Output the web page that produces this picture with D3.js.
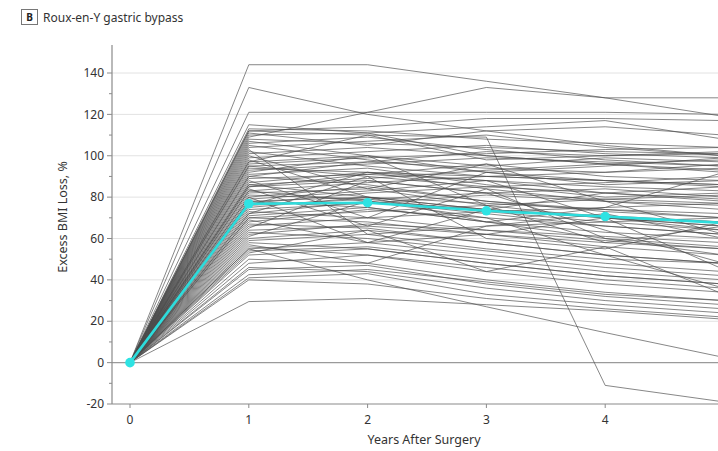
<!DOCTYPE html>
<html>
<head>
<meta charset="utf-8">
<script src="https://cdn.jsdelivr.net/npm/d3@7"></script>
<style>
  html, body { margin: 0; padding: 0; background: #fff; }
  svg { display: block; }
  text { font-family: "Noto Sans", "Open Sans", sans-serif; fill: #333; }
</style>
</head>
<body>
<svg id="chart" width="718" height="451"></svg>
<script>
// Years after surgery at which excess BMI loss was measured
const years = [0, 1, 2, 3, 4, 5];

// Individual patient trajectories (% excess BMI loss at years 1-5; year 0 is 0)
const patients = [
  [144, 144, 136, 128, 119],
  [133, 120, 112, 105, 100],
  [121, 121, 121, 121, 120],
  [109, 121, 133, 128, 128],
  [115, 111, 114, 117, 108],
  [112, 114, 118, 118, 117],
  [97, 110, 109, -11, -19],
  [113, 112, 108, 106, 104],
  [112, 110, 98, 100, 102],
  [111, 105, 112, 114, 110],
  [110, 111, 100, 96, 92],
  [108, 106, 104, 102, 101],
  [107, 100, 95, 99, 97],
  [106, 109, 103, 98, 95],
  [105, 98, 92, 88, 86],
  [104, 107, 110, 104, 100],
  [103, 62, 55, 50, 48],
  [102, 95, 90, 92, 94],
  [101, 104, 100, 96, 98],
  [100, 84, 96, 78, 62],
  [99, 102, 105, 101, 99],
  [98, 80, 68, 75, 92],
  [97, 100, 92, 86, 88],
  [96, 99, 101, 103, 104],
  [95, 90, 85, 82, 79],
  [95, 97, 94, 92, 96],
  [94, 92, 90, 88, 86],
  [93, 96, 99, 97, 95],
  [92, 100, 76, 58, 66],
  [91, 94, 86, 80, 82],
  [90, 97, 102, 100, 101],
  [90, 86, 78, 74, 70],
  [89, 91, 88, 85, 83],
  [88, 70, 92, 95, 99],
  [87, 92, 84, 78, 74],
  [86, 89, 93, 96, 93],
  [86, 80, 74, 70, 66],
  [85, 88, 82, 79, 77],
  [85, 91, 96, 90, 88],
  [84, 66, 84, 60, 52],
  [83, 78, 72, 66, 62],
  [83, 87, 90, 88, 85],
  [82, 84, 76, 70, 68],
  [81, 79, 82, 84, 80],
  [80, 85, 78, 73, 70],
  [80, 58, 62, 70, 64],
  [79, 83, 88, 82, 78],
  [78, 80, 74, 71, 68],
  [78, 75, 68, 60, 56],
  [77, 82, 85, 87, 90],
  [76, 79, 73, 68, 64],
  [76, 92, 88, 70, 45],
  [75, 80, 77, 74, 72],
  [74, 77, 81, 78, 76],
  [73, 70, 64, 59, 55],
  [72, 78, 74, 70, 66],
  [72, 90, 60, 55, 68],
  [71, 75, 68, 63, 60],
  [70, 73, 76, 79, 81],
  [70, 68, 62, 56, 52],
  [69, 58, 74, 82, 85],
  [68, 74, 70, 66, 62],
  [67, 65, 58, 52, 48],
  [66, 70, 73, 75, 77],
  [65, 88, 82, 64, 48],
  [64, 66, 62, 58, 55],
  [63, 60, 54, 48, 44],
  [62, 67, 64, 61, 58],
  [61, 78, 70, 52, 36],
  [60, 64, 58, 52, 48],
  [59, 62, 66, 68, 70],
  [58, 55, 48, 42, 38],
  [57, 48, 66, 72, 60],
  [56, 52, 44, 38, 34],
  [55, 58, 52, 46, 42],
  [55, 40, 27, 14.5, 2.5],
  [54, 56, 50, 44, 40],
  [53, 64, 44, 56, 33],
  [52, 55, 48, 42, 38],
  [50, 48, 40, 34, 30],
  [48, 52, 46, 40, 36],
  [46, 44, 36, 30, 26],
  [45, 47, 38, 32, 28],
  [42.5, 45, 39, 33, 30],
  [41, 43, 33, 28, 24],
  [40, 38, 31, 26, 22],
  [29.5, 31, 28, 25, 21]
];

// Mean excess BMI loss at each year
const meanLoss = [0, 76.8, 77.3, 73.4, 70.6, 67.5];

// Axis ticks
const yTicks = [-20, 0, 20, 40, 60, 80, 100, 120, 140];
const yMinorTicks = d3.range(-20, 141, 10);
const xTicks = [0, 1, 2, 3, 4];

const svg = d3.select("#chart");

const x = d3.scaleLinear().domain([0, 5]).range([130, 724]);
const y = d3.scaleLinear().domain([-20, 140]).range([404, 73]);
const axisLeftX = 112;
const plotRight = 718;

// Panel label and title
svg.append("rect")
  .attr("x", 21.5).attr("y", 9.5).attr("width", 16).attr("height", 15)
  .attr("fill", "#fff").attr("stroke", "#777").attr("stroke-width", 1);
svg.append("text")
  .attr("x", 29.5).attr("y", 21)
  .attr("text-anchor", "middle")
  .style("font-size", "10px").style("font-weight", "bold").style("fill", "#222")
  .text("B");
svg.append("text")
  .attr("x", 43).attr("y", 21.5)
  .style("font-size", "12px")
  .text("Roux-en-Y gastric bypass");

// Horizontal gridlines
svg.append("g")
  .selectAll("line")
  .data(yTicks.filter(d => d !== 0 && d !== -20))
  .join("line")
  .attr("x1", axisLeftX).attr("x2", plotRight)
  .attr("y1", d => y(d)).attr("y2", d => y(d))
  .attr("stroke", "#e2e2e2").attr("stroke-width", 1);

// Zero reference line
svg.append("line")
  .attr("x1", axisLeftX).attr("x2", plotRight)
  .attr("y1", y(0)).attr("y2", y(0))
  .attr("stroke", "#9a9a9a").attr("stroke-width", 1.2);

// Individual trajectories
const line = d3.line()
  .x((d, i) => x(years[i]))
  .y(d => y(d));

svg.append("g")
  .selectAll("path")
  .data(patients.map(p => [0, ...p]))
  .join("path")
  .attr("d", line)
  .attr("fill", "none")
  .attr("stroke", "#4d4d4d")
  .attr("stroke-width", 0.8)
  .attr("stroke-opacity", 0.85);

// Mean trajectory
svg.append("path")
  .datum(meanLoss)
  .attr("d", line)
  .attr("fill", "none")
  .attr("stroke", "#2ddcdc")
  .attr("stroke-width", 2.6);

svg.append("g")
  .selectAll("circle")
  .data(meanLoss.slice(0, 5))
  .join("circle")
  .attr("cx", (d, i) => x(years[i]))
  .attr("cy", d => y(d))
  .attr("r", 4.8)
  .attr("fill", "#2ee3e3");

// Y axis
const yAxis = svg.append("g").attr("transform", `translate(${axisLeftX},0)`);
yAxis.append("line")
  .attr("x1", 0).attr("x2", 0).attr("y1", 45).attr("y2", y(-20))
  .attr("stroke", "#8a8a8a").attr("stroke-width", 1.2);
yAxis.selectAll(".minor")
  .data(yMinorTicks.filter(d => d % 20 !== 0))
  .join("line")
  .attr("class", "minor")
  .attr("x1", -3).attr("x2", 0)
  .attr("y1", d => y(d)).attr("y2", d => y(d))
  .attr("stroke", "#8a8a8a");
yAxis.selectAll(".major")
  .data(yTicks)
  .join("line")
  .attr("class", "major")
  .attr("x1", -5).attr("x2", 0)
  .attr("y1", d => y(d)).attr("y2", d => y(d))
  .attr("stroke", "#8a8a8a");
yAxis.selectAll("text")
  .data(yTicks)
  .join("text")
  .attr("x", -8).attr("y", d => y(d))
  .attr("dy", "0.35em")
  .attr("text-anchor", "end")
  .style("font-size", "12px")
  .text(d => d);

// X axis
const xAxis = svg.append("g");
xAxis.append("line")
  .attr("x1", axisLeftX).attr("x2", plotRight)
  .attr("y1", y(-20)).attr("y2", y(-20))
  .attr("stroke", "#8a8a8a").attr("stroke-width", 1.2);
xAxis.selectAll(".tick")
  .data(xTicks)
  .join("line")
  .attr("class", "tick")
  .attr("x1", d => x(d)).attr("x2", d => x(d))
  .attr("y1", y(-20)).attr("y2", y(-20) + 4)
  .attr("stroke", "#8a8a8a");
xAxis.selectAll("text")
  .data(xTicks)
  .join("text")
  .attr("x", d => x(d)).attr("y", 424)
  .attr("text-anchor", "middle")
  .style("font-size", "12px")
  .text(d => d);

// Axis titles
svg.append("text")
  .attr("x", 424).attr("y", 444)
  .attr("text-anchor", "middle")
  .style("font-size", "12.5px")
  .text("Years After Surgery");

svg.append("text")
  .attr("transform", "translate(67,217) rotate(-90)")
  .attr("text-anchor", "middle")
  .style("font-size", "12.5px")
  .text("Excess BMI Loss, %");
</script>
</body>
</html>
